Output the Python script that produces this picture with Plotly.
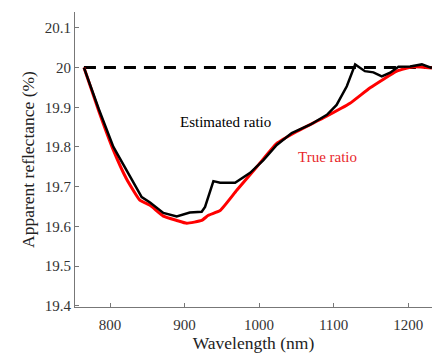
import plotly.graph_objects as go

# Estimated ratio (black)
est_wl = [765, 785, 804.5, 820, 842.5, 853.7, 871.5, 889.5, 907, 923, 927.5, 938.7, 947.7,
          967.8, 988, 1005.8, 1023.7, 1043.8, 1068.5, 1091, 1104, 1117.7, 1128.9, 1142,
          1153.4, 1164.6, 1175.8, 1187, 1202.7, 1218.4, 1231.8]
est_val = [20.0, 19.895, 19.80, 19.75, 19.674, 19.66, 19.634, 19.625, 19.635, 19.637, 19.649,
           19.714, 19.71, 19.71, 19.735, 19.767, 19.805, 19.835, 19.856, 19.881, 19.906,
           19.953, 20.008, 19.991, 19.988, 19.978, 19.987, 20.002, 20.003, 20.008, 19.999]

# True ratio (red)
true_wl = [765, 785, 804.5, 822, 840, 853.7, 871.5, 889.5, 903, 923, 932, 947.7, 970, 997,
           1023.7, 1050.6, 1086, 1122, 1149, 1184.8, 1207, 1231.8]
true_val = [20.0, 19.89, 19.792, 19.72, 19.666, 19.653, 19.626, 19.615, 19.608, 19.615,
            19.628, 19.64, 19.691, 19.75, 19.809, 19.839, 19.873, 19.91, 19.949, 19.991,
            20.002, 19.999]

ref_wl = [765, 1232]
ref_val = [20.0, 20.0]

x_ticks = [800, 900, 1000, 1100, 1200]
y_ticks = [19.4, 19.5, 19.6, 19.7, 19.8, 19.9, 20.0, 20.1]
y_tick_text = ["19.4", "19.5", "19.6", "19.7", "19.8", "19.9", "20", "20.1"]

SERIF = "Liberation Serif, Times New Roman, Times, serif"

fig = go.Figure()
fig.add_trace(go.Scatter(x=ref_wl, y=ref_val, mode="lines",
                         line=dict(color="black", width=3, dash="12px,8px"),
                         showlegend=False, hoverinfo="skip"))
fig.add_trace(go.Scatter(x=true_wl, y=true_val, mode="lines", line_shape="spline",
                         line=dict(color="#ff0000", width=3, smoothing=0.4), showlegend=False))
fig.add_trace(go.Scatter(x=est_wl, y=est_val, mode="lines",
                         line=dict(color="black", width=2.5), showlegend=False))

fig.add_annotation(x=955, y=19.864, text="Estimated ratio", showarrow=False,
                   font=dict(family=SERIF, size=15, color="black"))
fig.add_annotation(x=1092, y=19.776, text="True ratio", showarrow=False,
                   font=dict(family=SERIF, size=15, color="#e8262a"))

axis_common = dict(showline=True, linecolor="#777777", linewidth=1, ticks="inside",
                   ticklen=4, tickcolor="#777777", showgrid=False, zeroline=False,
                   tickfont=dict(family=SERIF, size=15, color="#333333"))

fig.update_layout(
    width=432, height=354,
    margin=dict(l=75, r=0, t=12, b=47),
    paper_bgcolor="white", plot_bgcolor="white",
    font=dict(family=SERIF),
    xaxis=dict(range=[753, 1232], tickvals=x_ticks, ticklabelstandoff=4,
               title=dict(text="Wavelength (nm)", standoff=3,
                          font=dict(family=SERIF, size=17.5, color="#222222")),
               **axis_common),
    yaxis=dict(range=[19.397, 20.14], tickvals=y_ticks, ticktext=y_tick_text,
               title=dict(text="Apparent reflectance (%)", standoff=5,
                          font=dict(family=SERIF, size=17.5, color="#222222")),
               **axis_common),
)

fig.write_html("out.html")
